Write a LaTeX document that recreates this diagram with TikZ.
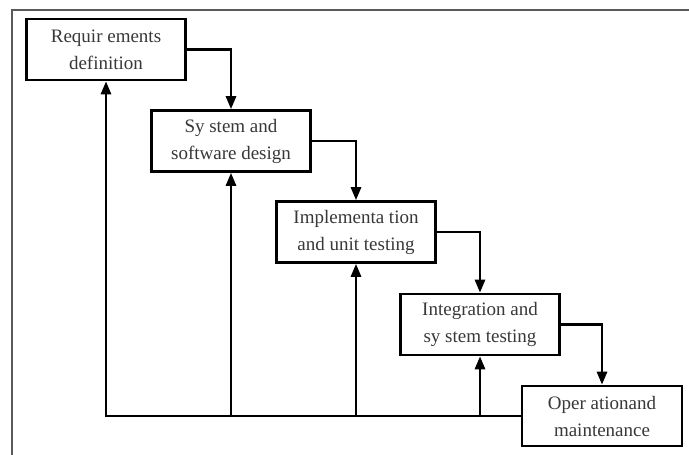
\documentclass[tikz,border=0pt]{standalone}
\usepackage{fontspec}
\setmainfont{Liberation Serif}
\usetikzlibrary{arrows.meta}
\begin{document}
\begin{tikzpicture}[x=1pt,y=-1pt,
  phase/.style={draw=black, line width=2.6pt, fill=white, text=black!78,
    minimum width=159pt, minimum height=61pt, inner sep=0pt, align=center,
    font=\fontsize{19}{27}\selectfont},
  flow/.style={draw=black, line width=2.8pt, -{Triangle[length=13pt,width=10pt]}},
  frame/.style={draw=black!65, line width=1.6pt}]
  \useasboundingbox (0,0) rectangle (689,455);
  \fill[white] (0,0) rectangle (689,455);
  % open frame: top and left edges
  \draw[frame] (689,10) -- (12,10) -- (12,455);

  % the five phases
  \node[phase] (req)  at (106,49.5)  {Requir ements\\definition};
  \node[phase] (des)  at (231,141)   {Sy stem and\\software design};
  \node[phase] (impl) at (356,232)   {Implementa tion\\and unit testing};
  \node[phase] (intg) at (480,324.5) {Integration and\\sy stem testing};
  \node[phase, minimum width=160pt, minimum height=60pt] (ops) at (602,416) {Oper ationand\\maintenance};

  % forward cascade
  \draw[flow] (req.east)  -| (des.north);
  \draw[flow] (des.east)  -| (impl.north);
  \draw[flow] (impl.east) -| (intg.north);
  \draw[flow] (intg.east) -| (ops.north);

  % feedback paths
  \coordinate (fb) at (ops.west);
  \draw[flow] (fb) -| (req.south);
  \draw[flow] (des.south  |- fb) -- (des.south);
  \draw[flow] (impl.south |- fb) -- (impl.south);
  \draw[flow] (intg.south |- fb) -- (intg.south);
\end{tikzpicture}
\end{document}
